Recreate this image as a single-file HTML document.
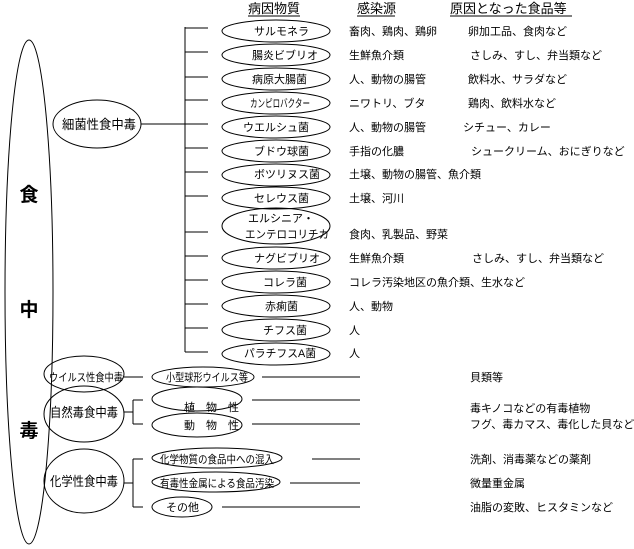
<!DOCTYPE html>
<html><head><meta charset="utf-8"><style>
body{margin:0;background:#fff}
svg{display:block}
text{font-family:"Liberation Sans","Noto Sans CJK JP",sans-serif;fill:#000}
</style></head><body>
<svg width="634" height="549" viewBox="0 0 634 549" xmlns="http://www.w3.org/2000/svg">
<g fill="none" stroke="#000" stroke-width="1">
<ellipse cx="29" cy="292" rx="24" ry="252"/>
<ellipse cx="97" cy="124" rx="44" ry="24"/>
<line x1="141" y1="124" x2="185" y2="124"/>
<line x1="185" y1="27" x2="185" y2="352"/>
<line x1="185" y1="28" x2="208" y2="28"/>
<line x1="185" y1="52" x2="208" y2="52"/>
<line x1="185" y1="77" x2="208" y2="77"/>
<line x1="185" y1="100" x2="208" y2="100"/>
<line x1="185" y1="124" x2="208" y2="124"/>
<line x1="185" y1="148" x2="208" y2="148"/>
<line x1="185" y1="172" x2="208" y2="172"/>
<line x1="185" y1="196" x2="208" y2="196"/>
<line x1="185" y1="232" x2="208" y2="232"/>
<line x1="185" y1="256" x2="208" y2="256"/>
<line x1="185" y1="280" x2="208" y2="280"/>
<line x1="185" y1="304" x2="208" y2="304"/>
<line x1="185" y1="328" x2="208" y2="328"/>
<line x1="185" y1="352" x2="208" y2="352"/>
<ellipse cx="276" cy="31" rx="54" ry="11"/>
<ellipse cx="276" cy="55" rx="54" ry="11"/>
<ellipse cx="276" cy="79" rx="54" ry="11"/>
<ellipse cx="276" cy="103" rx="54" ry="11"/>
<ellipse cx="276" cy="127" rx="54" ry="11"/>
<ellipse cx="276" cy="151" rx="54" ry="11"/>
<ellipse cx="276" cy="175" rx="54" ry="11"/>
<ellipse cx="276" cy="198" rx="54" ry="11"/>
<ellipse cx="276" cy="226" rx="54" ry="18"/>
<ellipse cx="276" cy="258" rx="54" ry="11"/>
<ellipse cx="276" cy="282" rx="54" ry="11"/>
<ellipse cx="276" cy="306" rx="54" ry="11"/>
<ellipse cx="276" cy="330" rx="54" ry="11"/>
<ellipse cx="276" cy="354" rx="54" ry="11"/>
<ellipse cx="84" cy="374" rx="40" ry="18"/>
<line x1="124" y1="377" x2="143" y2="377"/>
<ellipse cx="203" cy="377" rx="51" ry="10"/>
<line x1="262" y1="377" x2="360" y2="377"/>
<ellipse cx="84" cy="414" rx="40" ry="28"/>
<line x1="124" y1="412" x2="133" y2="412"/>
<line x1="133" y1="400" x2="133" y2="424"/>
<line x1="133" y1="400" x2="143" y2="400"/>
<line x1="133" y1="424" x2="143" y2="424"/>
<ellipse cx="197" cy="399" rx="45" ry="12"/>
<ellipse cx="197" cy="425" rx="45" ry="12"/>
<line x1="252" y1="400" x2="360" y2="400"/>
<line x1="252" y1="424" x2="360" y2="424"/>
<ellipse cx="84" cy="481" rx="40" ry="32"/>
<line x1="124" y1="483" x2="133" y2="483"/>
<line x1="133" y1="459" x2="133" y2="507"/>
<line x1="133" y1="459" x2="143" y2="459"/>
<line x1="133" y1="507" x2="143" y2="507"/>
<ellipse cx="217" cy="458" rx="65" ry="10"/>
<ellipse cx="216" cy="482" rx="64" ry="10"/>
<ellipse cx="182" cy="507" rx="30" ry="10"/>
<line x1="312" y1="459" x2="360" y2="459"/>
<line x1="290" y1="483" x2="360" y2="483"/>
<line x1="222" y1="507" x2="360" y2="507"/>
<line x1="248" y1="16" x2="300" y2="16"/>
<line x1="357" y1="16" x2="395" y2="16"/>
<line x1="450" y1="16" x2="572" y2="16"/>
</g>
<g font-size="13">
<text x="248" y="13">病因物質</text>
<text x="357" y="13">感染源</text>
<text x="450" y="13">原因となった食品等</text>
<text x="62" y="129" textLength="74" lengthAdjust="spacingAndGlyphs">細菌性食中毒</text>
<text x="50" y="417" textLength="68" lengthAdjust="spacingAndGlyphs">自然毒食中毒</text>
<text x="50" y="486" textLength="68" lengthAdjust="spacingAndGlyphs">化学性食中毒</text>
</g>
<g font-size="19" font-weight="bold" text-anchor="middle">
<text x="29" y="201">食</text>
<text x="29" y="316">中</text>
<text x="29" y="437">毒</text>
</g>
<g font-size="11">
<text x="254" y="35">サルモネラ</text>
<text x="252" y="59">腸炎ビブリオ</text>
<text x="252" y="83">病原大腸菌</text>
<text x="250" y="107" textLength="60" lengthAdjust="spacingAndGlyphs">カンピロバクター</text>
<text x="243" y="131">ウエルシュ菌</text>
<text x="254" y="155">ブドウ球菌</text>
<text x="254" y="178">ボツリヌス菌</text>
<text x="254" y="202">セレウス菌</text>
<text x="248" y="222">エルシニア・</text>
<text x="245" y="238" textLength="84" lengthAdjust="spacingAndGlyphs">エンテロコリチカ</text>
<text x="254" y="262">ナグビブリオ</text>
<text x="263" y="286">コレラ菌</text>
<text x="265" y="310">赤痢菌</text>
<text x="263" y="334">チフス菌</text>
<text x="244" y="357" textLength="72" lengthAdjust="spacingAndGlyphs">パラチフスA菌</text>
<text x="349" y="35">畜肉、鶏肉、鶏卵</text>
<text x="349" y="59">生鮮魚介類</text>
<text x="349" y="83">人、動物の腸管</text>
<text x="349" y="107">ニワトリ、ブタ</text>
<text x="349" y="131">人、動物の腸管</text>
<text x="349" y="155">手指の化膿</text>
<text x="349" y="178">土壌、動物の腸管、魚介類</text>
<text x="349" y="202">土壌、河川</text>
<text x="349" y="238">食肉、乳製品、野菜</text>
<text x="349" y="262">生鮮魚介類</text>
<text x="349" y="286">コレラ汚染地区の魚介類、生水など</text>
<text x="349" y="310">人、動物</text>
<text x="349" y="334">人</text>
<text x="349" y="357">人</text>
<text x="468" y="35">卵加工品、食肉など</text>
<text x="470" y="59">さしみ、すし、弁当類など</text>
<text x="468" y="83">飲料水、サラダなど</text>
<text x="468" y="107">鶏肉、飲料水など</text>
<text x="463" y="131">シチュー、カレー</text>
<text x="471" y="155">シュークリーム、おにぎりなど</text>
<text x="472" y="262">さしみ、すし、弁当類など</text>
<text x="49" y="381" textLength="74" lengthAdjust="spacingAndGlyphs">ウイルス性食中毒</text>
<text x="166" y="381" textLength="82" lengthAdjust="spacingAndGlyphs">小型球形ウイルス等</text>
<text x="184" y="411">植　物　性</text>
<text x="184" y="429">動　物　性</text>
<text x="160" y="463" textLength="114" lengthAdjust="spacingAndGlyphs">化学物質の食品中への混入</text>
<text x="160" y="487" textLength="114" lengthAdjust="spacingAndGlyphs">有毒性金属による食品汚染</text>
<text x="166" y="511">その他</text>
<text x="470" y="381">貝類等</text>
<text x="470" y="412">毒キノコなどの有毒植物</text>
<text x="470" y="428">フグ、毒カマス、毒化した貝など</text>
<text x="470" y="463">洗剤、消毒薬などの薬剤</text>
<text x="470" y="487">微量重金属</text>
<text x="470" y="511">油脂の変敗、ヒスタミンなど</text>
</g>
</svg>
</body></html>
